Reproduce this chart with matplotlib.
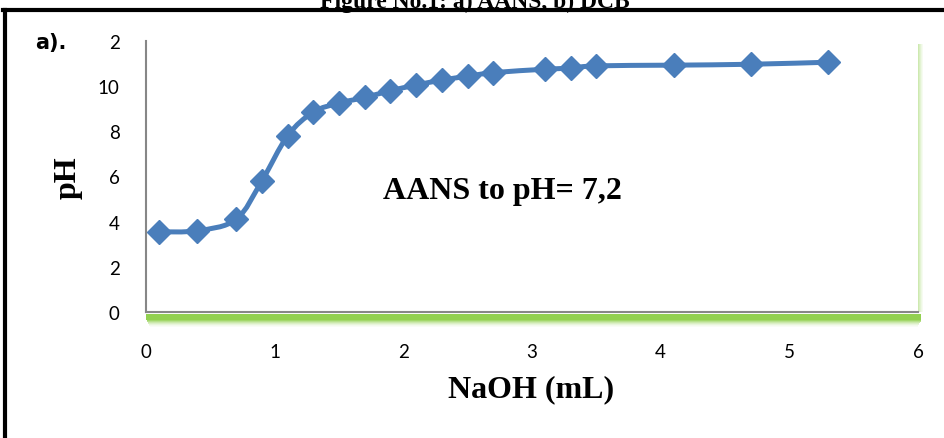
"""
Titration curve: pH of AANS against added NaOH volume (panel a).
Writes out.png at 945x439 px.
"""
import matplotlib
matplotlib.use("Agg")
import matplotlib.pyplot as plt
import numpy as np
from matplotlib.lines import Line2D
from matplotlib.patches import PathPatch, Rectangle
from matplotlib.path import Path

# Values.
NAOH_ML = [0.1, 0.4, 0.7, 0.9, 1.1, 1.3, 1.5, 1.7, 1.9, 2.1,
           2.3, 2.5, 2.7, 3.1, 3.3, 3.5, 4.1, 4.7, 5.3]
PH = [3.55, 3.6, 4.1, 5.8, 7.8, 8.85, 9.25, 9.5, 9.8, 10.05,
      10.27, 10.44, 10.6, 10.75, 10.8, 10.9, 10.93, 10.97, 11.06]
X_TICKS = [0, 1, 2, 3, 4, 5, 6]
Y_TICKS = [0, 2, 4, 6, 8, 10, 12]
Y_TICK_LABELS = ["0", "2", "4", "6", "8", "10", "2"]  # top label is clipped to "2" in the source

BLUE = "#4a7ebb"
GREEN = "#92d050"
SERIF = ["Liberation Serif", "DejaVu Serif"]
TICK_FONT = ["Lato", "DejaVu Sans"]

W, H = 945, 439


def px(x, y):
    """Pixel position (from top-left) to figure fraction."""
    return x / W, 1 - y / H


def smooth_path(xs, ys):
    """Excel-style smoothed line: cubic Bezier segments through every point."""
    pts = np.column_stack([xs, ys])
    verts = [pts[0]]
    codes = [Path.MOVETO]
    n = len(pts)
    for i in range(n - 1):
        p0 = pts[max(i - 1, 0)]
        p1 = pts[i]
        p2 = pts[i + 1]
        p3 = pts[min(i + 2, n - 1)]
        c1 = p1 + (p2 - p0) / 6
        c2 = p2 - (p3 - p1) / 6
        verts += [c1, c2, p2]
        codes += [Path.CURVE4] * 3
    return Path(verts, codes)


fig = plt.figure(figsize=(W / 100, H / 100), dpi=100)

# green "glow" under the plot area: solid band, then strips fading out downward
x0, y0 = px(146, 321)
x1, y1 = px(921, 314.5)
fig.add_artist(Rectangle((x0, y0), x1 - x0, y1 - y0, transform=fig.transFigure,
                         facecolor=GREEN, edgecolor="none", zorder=-1))
for i, a in enumerate([0.85, 0.65, 0.47, 0.32, 0.2, 0.1, 0.05]):
    x0, y0 = px(147 + i * 0.5, 322 + i)
    x1, _ = px(921 - i * 0.5, 0)
    fig.add_artist(Rectangle((x0, y0), x1 - x0, 1 / H,
                             transform=fig.transFigure, facecolor=GREEN,
                             edgecolor="none", alpha=a, zorder=-1))
# faint glow on the right edge
for i, a in enumerate([0.45, 0.35, 0.25, 0.15, 0.08]):
    x0, y0 = px(918 + i, 313)
    _, y1 = px(0, 45)
    fig.add_artist(Rectangle((x0, y0), 1 / W, y1 - y0,
                             transform=fig.transFigure, facecolor=GREEN,
                             edgecolor="none", alpha=a, zorder=-1))

# main plot area
l, b = px(146, 313)
r, t = px(918, 42)
ax = fig.add_axes([l, b, r - l, t - b])
ax.set_xlim(0, 6)
ax.set_ylim(0, 12)
ax.patch.set_alpha(0)

ax.add_patch(PathPatch(smooth_path(NAOH_ML, PH), facecolor="none",
                       edgecolor=BLUE, linewidth=3.6, capstyle="round"))
ax.plot(NAOH_ML, PH, linestyle="none", marker="D", markersize=12,
        color=BLUE, markeredgecolor=BLUE)

for side_name in ["top", "right"]:
    ax.spines[side_name].set_visible(False)
for side_name in ["left", "bottom"]:
    ax.spines[side_name].set_color("#878787")
    ax.spines[side_name].set_linewidth(1.5)

ax.set_xticks(X_TICKS)
ax.set_yticks(Y_TICKS)
ax.set_yticklabels(Y_TICK_LABELS)
ax.tick_params(length=0, labelsize=13.5)
ax.tick_params(axis="x", pad=22)
ax.tick_params(axis="y", pad=19)
for lab in ax.get_xticklabels() + ax.get_yticklabels():
    lab.set_family(TICK_FONT)

ax.text(2.77, 5.36, "AANS to pH= 7,2", ha="center", va="center",
        fontsize=23, fontweight="bold", family=SERIF)

fig.text(*px(531, 390), "NaOH (mL)", ha="center", va="center",
         fontsize=23, fontweight="bold", family=SERIF)
fig.text(*px(68, 178), "pH", ha="center", va="center", rotation=90,
         fontsize=23, fontweight="bold", family=SERIF)
fig.text(*px(35, 43), "a).", ha="left", va="center",
         fontsize=15, fontweight="bold",
         family=["Liberation Sans Narrow", "DejaVu Sans"])

# figure caption, cut off by the top edge like the source scan
fig.text(*px(475, 8), "Figure No.1: a) AANS, b) DCB", ha="center",
         va="baseline", fontsize=17, fontweight="bold", family=SERIF)

# black frame around the panel
fig.add_artist(Line2D([px(5, 0)[0]] * 2, [px(0, 11)[1], 0],
                      color="black", linewidth=3))
fig.add_artist(Line2D([px(3, 0)[0], 1], [px(0, 11)[1]] * 2,
                      color="black", linewidth=3))

fig.savefig("out.png", dpi=100)
